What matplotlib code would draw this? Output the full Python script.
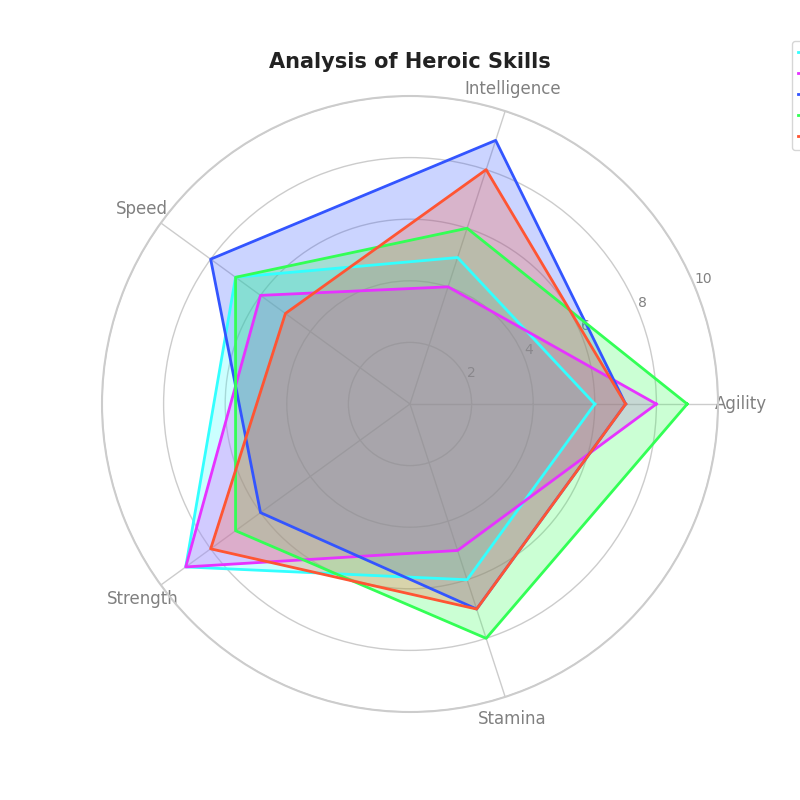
import numpy as np
import matplotlib.pyplot as plt

# skill categories and hero scores
categories = ["Agility", "Intelligence", "Speed", "Strength", "Stamina"]
heroes = ["Hero A", "Hero B", "Hero C", "Hero D", "Hero E"]
hero_a = [6, 5, 7, 9, 6]
hero_b = [8, 4, 6, 9, 5]
hero_c = [7, 9, 8, 6, 7]
hero_d = [9, 6, 7, 7, 8]
hero_e = [7, 8, 5, 8, 7]
colors = ["#33FFFF", "#E633FF", "#3355FF", "#33FF55", "#FF5533"]

angles = np.linspace(0, 2 * np.pi, len(categories), endpoint=False).tolist()
angles += angles[:1]

fig = plt.figure(figsize=(8, 8), dpi=100)
ax = fig.add_axes([0.1275, 0.11, 0.77, 0.77], polar=True)
ax.set_axisbelow(True)

for name, vals, col in zip(heroes, [hero_a, hero_b, hero_c, hero_d, hero_e], colors):
    v = vals + vals[:1]
    ax.plot(angles, v, color=col, linewidth=2, label=name)
    ax.fill(angles, v, color=col, alpha=0.25)

ax.set_ylim(0, 10)
ax.set_yticks([2, 4, 6, 8, 10])
ax.set_yticklabels(["2", "4", "6", "8", "10"], color="#808080", fontsize=10)
ax.set_rlabel_position(22.5)
ax.set_xticks(angles[:-1])
ax.set_xticklabels(categories, color="#808080", fontsize=12)
ax.tick_params(axis="x", pad=6)
ax.grid(color="#cccccc", linewidth=1)
ax.spines["polar"].set_color("#cccccc")
ax.spines["polar"].set_linewidth(1.5)

ax.set_title("Analysis of Heroic Skills", fontsize=15, fontweight="bold",
             color="#222222", pad=20)

fig.legend(loc="upper left", bbox_to_anchor=(0.99, 0.949), borderaxespad=0,
           fontsize=10)

fig.savefig("out.png", dpi=100)
